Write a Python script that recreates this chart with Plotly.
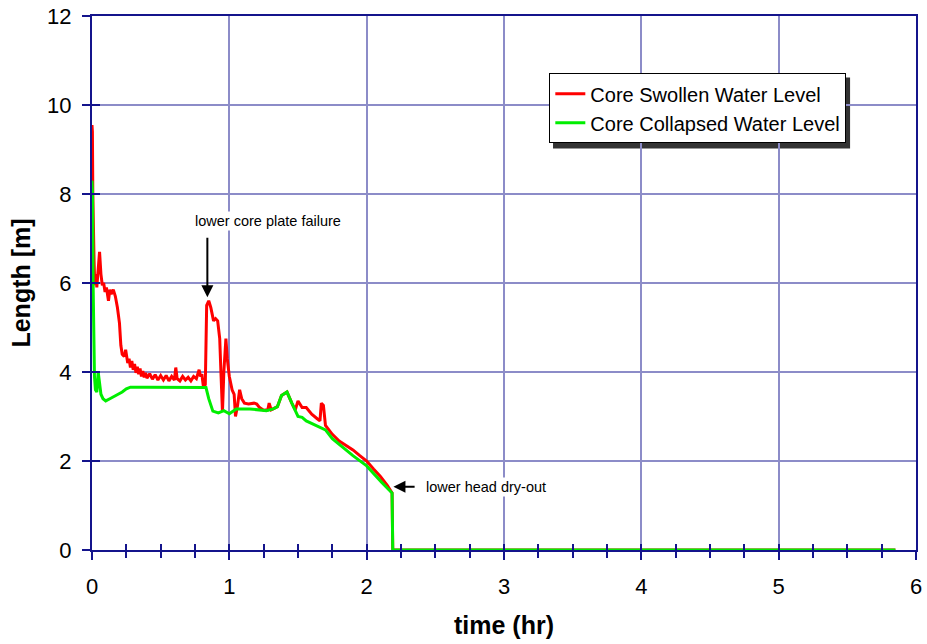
import plotly.graph_objects as go

# ---- data (time in hr, length in m) ----
swollen_t = [0.000, 0.003, 0.006, 0.009, 0.012, 0.015, 0.020, 0.030, 0.035, 0.045, 0.055, 0.065,
             0.075, 0.085, 0.095, 0.105, 0.120, 0.130, 0.140, 0.155, 0.170, 0.185, 0.200, 0.210,
             0.220, 0.235, 0.245, 0.260, 0.270, 0.280, 0.290, 0.300, 0.310, 0.320, 0.330, 0.340,
             0.350, 0.360, 0.370, 0.380, 0.390, 0.400, 0.420, 0.440, 0.460, 0.480, 0.500, 0.520,
             0.540, 0.560, 0.580, 0.600, 0.610, 0.620, 0.640, 0.660, 0.680, 0.700, 0.720, 0.740,
             0.760, 0.780, 0.790, 0.800, 0.810, 0.825, 0.835, 0.850, 0.865, 0.885, 0.900, 0.915,
             0.930, 0.940, 0.950, 0.960, 0.975, 0.985, 1.000, 1.020, 1.035, 1.045, 1.060, 1.075,
             1.090, 1.110, 1.140, 1.180, 1.200, 1.220, 1.250, 1.280, 1.290, 1.305, 1.320, 1.350,
             1.380, 1.420, 1.455, 1.480, 1.500, 1.530, 1.560, 1.600, 1.640, 1.660, 1.670, 1.685,
             1.700, 1.750, 1.800, 1.850, 1.900, 1.950, 2.000, 2.050, 2.100, 2.150, 2.185, 2.190,
             5.850]
swollen_L = [9.55, 9.40, 8.00, 7.20, 6.90, 6.50, 5.95, 6.20, 5.90, 6.40, 6.70, 6.20,
             5.95, 6.00, 5.80, 5.90, 5.60, 5.85, 5.75, 5.85, 5.70, 5.45, 5.10, 4.60,
             4.40, 4.35, 4.50, 4.20, 4.30, 4.10, 4.25, 4.05, 4.18, 3.98, 4.12, 3.95,
             4.08, 3.90, 4.02, 3.88, 3.98, 3.86, 3.96, 3.84, 3.94, 3.82, 3.92, 3.82,
             3.92, 3.80, 3.90, 3.82, 4.10, 3.85, 3.80, 3.90, 3.82, 3.88, 3.80, 3.90,
             3.85, 4.05, 3.90, 3.95, 3.70, 3.72, 5.50, 5.60, 5.45, 5.15, 5.20, 5.15,
             4.75, 3.90, 3.10, 4.00, 4.75, 4.30, 3.90, 3.60, 3.50, 3.00, 3.25, 3.60,
             3.40, 3.30, 3.28, 3.30, 3.28, 3.20, 3.14, 3.15, 3.30, 3.15, 3.17, 3.22,
             3.47, 3.55, 3.30, 3.15, 3.35, 3.20, 3.20, 3.05, 2.95, 2.90, 3.30, 3.25,
             2.80, 2.60, 2.45, 2.35, 2.25, 2.12, 2.00, 1.82, 1.65, 1.45, 1.28, 0.00,
             0.00]

collapsed_t = [0.000, 0.004, 0.008, 0.012, 0.018, 0.025, 0.035, 0.045, 0.055, 0.065, 0.080, 0.100,
               0.130, 0.160, 0.190, 0.220, 0.250, 0.280, 0.400, 0.600, 0.800, 0.830, 0.850, 0.880,
               0.920, 0.960, 1.000, 1.050, 1.150, 1.270, 1.320, 1.350, 1.380, 1.420, 1.455, 1.500,
               1.530, 1.560, 1.700, 1.750, 1.900, 2.000, 2.110, 2.185, 2.190, 5.850]
collapsed_L = [8.30, 8.00, 6.00, 4.50, 3.90, 3.60, 3.55, 4.00, 3.70, 3.50, 3.40, 3.35,
               3.40, 3.45, 3.50, 3.55, 3.62, 3.66, 3.66, 3.66, 3.66, 3.65, 3.40, 3.12,
               3.08, 3.13, 3.06, 3.17, 3.17, 3.13, 3.17, 3.22, 3.47, 3.55, 3.30, 3.00,
               2.98, 2.90, 2.70, 2.50, 2.12, 1.89, 1.52, 1.28, 0.00, 0.00]

x_ticks = [0, 1, 2, 3, 4, 5, 6]
y_ticks = [0, 2, 4, 6, 8, 10, 12]

FONT = "Arial, Liberation Sans, sans-serif"
AXIS = "#14148c"
GRID = "#8c8cc8"

fig = go.Figure()
fig.add_trace(go.Scatter(x=swollen_t, y=swollen_L, mode="lines", name="Core Swollen Water Level",
                         line=dict(color="#ff0000", width=3)))
fig.add_trace(go.Scatter(x=collapsed_t, y=collapsed_L, mode="lines", name="Core Collapsed Water Level",
                         line=dict(color="#00ee00", width=3)))
# invisible trace to activate overlay axes (inside ticks)
fig.add_trace(go.Scatter(x=[None], y=[None], xaxis="x2", yaxis="y2", showlegend=False, hoverinfo="skip"))

fig.update_layout(
    width=927, height=644,
    margin=dict(l=92, r=11, t=16, b=94),
    plot_bgcolor="white", paper_bgcolor="white",
    font=dict(family=FONT, color="black"),
    xaxis=dict(range=[0, 6], tickvals=x_ticks, ticks="outside", ticklen=8, tickwidth=1.5,
               tickcolor=AXIS, showline=True, linecolor=AXIS, linewidth=2, mirror=True,
               showgrid=True, gridcolor=GRID, gridwidth=1.5, zeroline=False, automargin=False,
               tickfont=dict(size=22, family=FONT), ticklabelstandoff=8,
               minor=dict(dtick=0.25, ticks="outside", ticklen=6, tickcolor=AXIS, tickwidth=1.5, showgrid=False),
               title=dict(text="<b>time (hr)</b>", font=dict(size=25, family=FONT), standoff=18)),
    yaxis=dict(range=[0, 12], tickvals=y_ticks, ticks="outside", ticklen=8, tickwidth=1.5,
               tickcolor=AXIS, showline=True, linecolor=AXIS, linewidth=2, mirror=True,
               showgrid=True, gridcolor=GRID, gridwidth=1.5, zeroline=False, automargin=False,
               tickfont=dict(size=22, family=FONT), ticklabelstandoff=6,
               title=dict(text="<b>Length [m]</b>", font=dict(size=25, family=FONT), standoff=9)),
    xaxis2=dict(range=[0, 6], overlaying="x", tickvals=x_ticks, ticks="inside", ticklen=6, tickwidth=1.5,
                tickcolor=AXIS, showticklabels=False, showgrid=False, showline=False, zeroline=False,
                automargin=False,
                minor=dict(dtick=0.25, ticks="inside", ticklen=6, tickcolor=AXIS, tickwidth=1.5, showgrid=False)),
    yaxis2=dict(range=[0, 12], overlaying="y", tickvals=y_ticks, ticks="inside", ticklen=8, tickwidth=1.5,
                tickcolor=AXIS, showticklabels=False, showgrid=False, showline=False, zeroline=False,
                automargin=False),
    legend=dict(x=0.555, y=0.8927, xanchor="left", yanchor="top", bgcolor="white",
                bordercolor="black", borderwidth=1, font=dict(size=20, family=FONT),
                tracegroupgap=0, itemwidth=30),
    showlegend=True,
)

# legend shadow (offset ~4 px right/down of the legend box)
fig.add_shape(type="rect", xref="paper", yref="paper", x0=0.5595, x1=0.920, y0=0.752, y1=0.885,
              fillcolor="#333333", line=dict(width=0), layer="below")

fig.add_annotation(x=0.84, y=5.68, ax=0.84, ay=7.05, axref="x", ayref="y", xref="x", yref="y",
                   text="", showarrow=True, arrowhead=2, arrowsize=1.2, arrowwidth=2, arrowcolor="black")
fig.add_annotation(x=1.28, y=7.39, text="lower core plate failure", showarrow=False,
                   font=dict(size=14.5, family=FONT, color="black"), bgcolor="white")
fig.add_annotation(x=2.195, y=1.42, ax=2.36, ay=1.42, axref="x", ayref="y", xref="x", yref="y",
                   text="", showarrow=True, arrowhead=2, arrowsize=1.2, arrowwidth=2, arrowcolor="black")
fig.add_annotation(x=2.87, y=1.42, text="lower head dry-out", showarrow=False,
                   font=dict(size=14.5, family=FONT, color="black"), bgcolor="white")

fig.write_html("out.html")
